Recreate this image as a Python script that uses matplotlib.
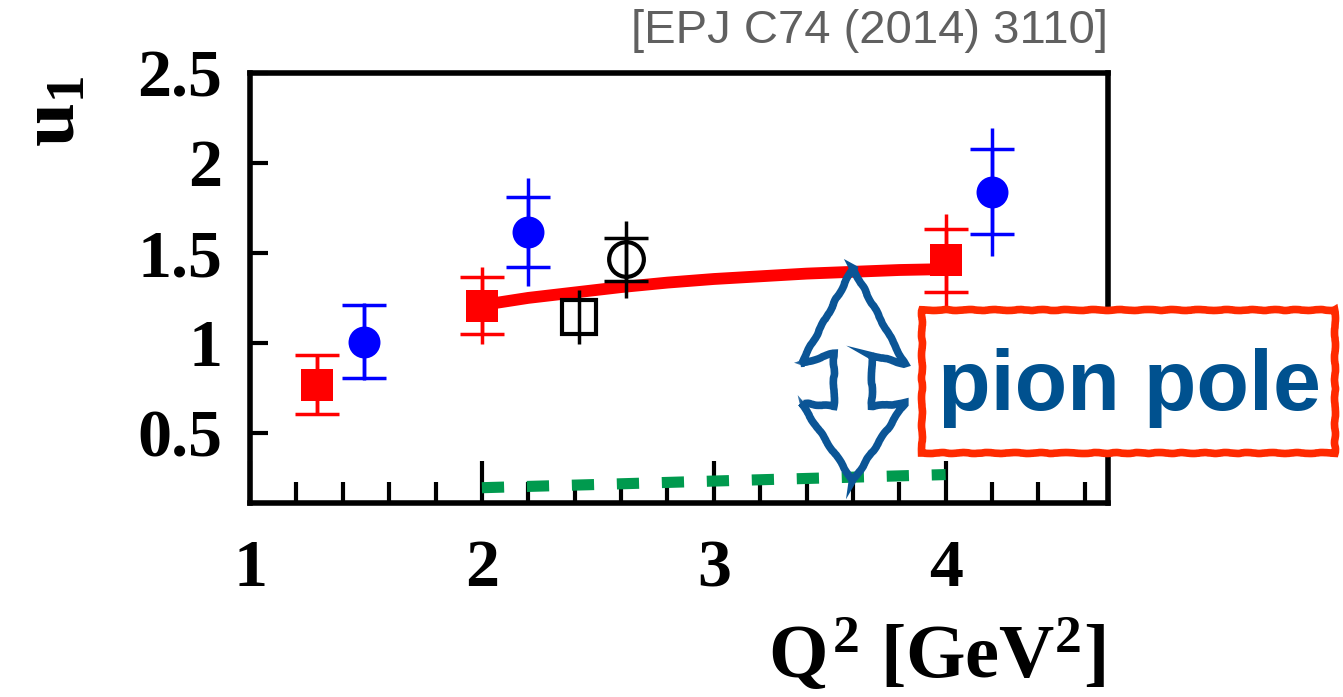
import numpy as np
import matplotlib.pyplot as plt
from matplotlib.patches import Rectangle, Polygon
from matplotlib.ticker import MultipleLocator, FuncFormatter

plt.rcParams['font.family'] = 'Liberation Serif'
plt.rcParams['font.weight'] = 'bold'
plt.rcParams['mathtext.fontset'] = 'custom'
plt.rcParams['mathtext.rm'] = 'Liberation Serif:bold'
plt.rcParams['mathtext.it'] = 'Liberation Serif:bold'
plt.rcParams['mathtext.bf'] = 'Liberation Serif:bold'

# data
q2_red = [1.29, 2.0, 4.0]
u1_red = [0.767, 1.207, 1.458]
err_red_stat = [0.165, 0.16, 0.175]
err_red_tot = [0.165, 0.215, 0.26]

q2_blue = [1.49, 2.2, 4.2]
u1_blue = [1.007, 1.618, 1.84]
err_blue_stat = [0.205, 0.195, 0.235]
err_blue_tot = [0.215, 0.30, 0.355]

q2_ocirc = [2.62]
u1_ocirc = [1.465]
err_ocirc_stat = [0.12]
err_ocirc_tot = [0.215]

q2_osq = [2.42]
u1_osq = [1.146]
err_osq_tot = [0.15]

q2_fit = [2.0, 2.2, 2.4, 2.6, 2.8, 3.0, 3.2, 3.4, 3.6, 3.8, 4.0]
u1_fit = [1.21, 1.25, 1.28, 1.31, 1.335, 1.355, 1.37, 1.385, 1.395, 1.405, 1.41]

q2_pole = [2.0, 2.5, 3.0, 3.5, 4.0]
u1_pole = [0.195, 0.213, 0.232, 0.250, 0.268]

W, H = 1343, 697
fig = plt.figure(figsize=(W / 100, H / 100), dpi=100)
ax = fig.add_axes([250 / W, 194 / H, 858 / W, 430 / H])

red = '#ff0000'
blue = '#0000ff'

# curves
ax.plot(q2_fit, u1_fit, color=red, lw=8.5, solid_capstyle='butt', zorder=3)
ax.plot(q2_pole, u1_pole, color='#009a4e', lw=8, dashes=(2.0, 2.05),
        dash_capstyle='butt', zorder=3)

# error bars: line = total, caps = inner
def points(x, y, etot, ein, color, marker, ms, mfc, mew=0):
    ax.errorbar(x, y, yerr=etot, fmt='none', ecolor=color, elinewidth=2.5,
                capsize=0, zorder=4)
    if ein is not None:
        ax.errorbar(x, y, yerr=ein, fmt='none', ecolor=color, elinewidth=2.5,
                    capsize=15.5, capthick=2.5, zorder=4)
    ax.plot(x, y, ls='none', marker=marker, ms=ms, mfc=mfc, mec=color,
            mew=mew, zorder=5)

points(q2_red, u1_red, err_red_tot, err_red_stat, red, 's', 23, red)
points(q2_blue, u1_blue, err_blue_tot, err_blue_stat, blue, 'o', 23, blue)
points(q2_ocirc, u1_ocirc, err_ocirc_tot, err_ocirc_stat, 'black', 'o', 25, 'none', 3)
points(q2_osq, u1_osq, err_osq_tot, None, 'black', 's', 24, 'none', 3)

# double arrow between the two curves at Q2 = 3.6
xa = 3.6
top = np.interp(xa, q2_fit, u1_fit) + 0.02
bot = np.interp(xa, q2_pole, u1_pole) - 0.02
span = top - bot
hw, sw = 0.224, 0.082
arrow = [(xa, top), (xa + hw, bot + 0.55 * span), (xa + sw, bot + 0.59 * span),
         (xa + sw, bot + 0.35 * span), (xa + hw, bot + 0.365 * span), (xa, bot),
         (xa - hw, bot + 0.365 * span), (xa - sw, bot + 0.35 * span),
         (xa - sw, bot + 0.60 * span), (xa - hw, bot + 0.55 * span)]
for k, lw in enumerate([5.5, 3.0, 2.0]):
    p = Polygon(arrow, closed=True, fc='none', ec='#0b5596', lw=lw,
                joinstyle='miter', zorder=6, alpha=0.85 if k else 1.0)
    p.set_sketch_params(scale=0.6 + 0.5 * k, length=40, randomness=4)
    ax.add_patch(p)

ax.set_xlim(1.0, 4.70)
ax.set_ylim(0.11, 2.5)
ax.xaxis.set_major_locator(MultipleLocator(1))
ax.xaxis.set_minor_locator(MultipleLocator(0.2))
ax.yaxis.set_major_locator(MultipleLocator(0.5))
ax.yaxis.set_major_formatter(FuncFormatter(lambda v, p: ('%g' % v)))
ax.tick_params(axis='x', which='major', direction='in', length=30, width=3,
               labelsize=49, pad=26)
ax.tick_params(axis='x', which='minor', direction='in', length=15, width=3)
ax.tick_params(axis='y', which='major', direction='in', length=13, width=3,
               labelsize=49, pad=20)
for s in ax.spines.values():
    s.set_linewidth(4)

fig.text(55.5 / W, 1 - 111.5 / H, r'$u_1$', rotation=90, ha='center',
         va='center', fontsize=57)
fig.text(1105 / W, 1 - 678 / H, r'$Q^2$ [GeV$^2$]', ha='right',
         va='baseline', fontsize=55)
fig.text(1108 / W, 1 - 43 / H, '[EPJ C74 (2014) 3110]', ha='right',
         va='baseline', fontsize=34, color='#606060', family='Liberation Sans',
         weight='normal')

# pion pole box
box = Rectangle((922 / W, 1 - 453 / H), (1335 - 922) / W, (453 - 310) / H,
                transform=fig.transFigure, fc='white', ec='#ff2a00', lw=5.5,
                joinstyle='miter', zorder=10)
box.set_sketch_params(scale=0.5, length=30, randomness=3)
fig.add_artist(box)
fig.text(1129 / W, 1 - 388 / H, 'pion pole', ha='center', va='center',
         fontsize=62, color='#00518f', family='Liberation Sans',
         weight='bold', zorder=11)

fig.savefig('out.png', dpi=100)
